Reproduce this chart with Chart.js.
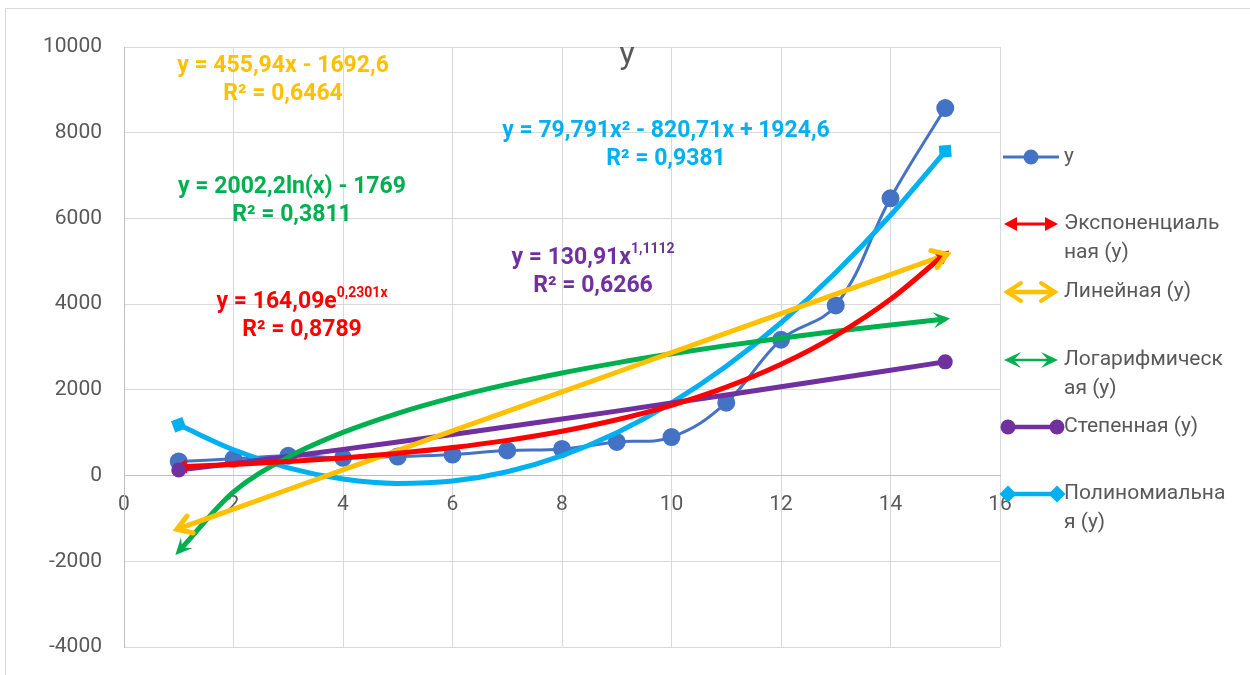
<!DOCTYPE html>
<html>
<head>
<meta charset="utf-8">
<script src="https://cdn.jsdelivr.net/npm/chart.js@4.4.1/dist/chart.umd.min.js"></script>
<style>
  html, body { margin: 0; padding: 0; background: #fff; }
  #wrap { position: relative; width: 1250px; height: 675px; overflow: hidden; }
  #frame { position: absolute; left: 5px; top: 8px; width: 1300px; height: 700px; border: 1px solid #d9d9d9; }
  canvas { position: absolute; left: 0; top: 0; }
</style>
</head>
<body>
<div id="wrap">
  <div id="frame"></div>
  <canvas id="myChart" width="1250" height="675"></canvas>
</div>
<script>
// data
const xValues = [1, 2, 3, 4, 5, 6, 7, 8, 9, 10, 11, 12, 13, 14, 15];
const yValues = [330, 390, 460, 415, 444, 491, 585, 622, 786, 898, 1702, 3169, 3970, 6470, 8575];
const xTicks = [0, 2, 4, 6, 8, 10, 12, 14, 16];
const yTicks = [-4000, -2000, 0, 2000, 4000, 6000, 8000, 10000];

// trendline coefficients as printed on the chart
const expCoef = [164.09, 0.2301];
const linCoef = [455.94, -1692.6];
const logCoef = [2002.2, -1769];
const powCoef = [130.91, 1.1112];
const polyCoef = [79.791, -820.71, 1924.6];

const chartTitle = "y";
const seriesNames = ["y", "Экспоненциальная (y)", "Линейная (y)", "Логарифмическая (y)", "Степенная (y)", "Полиномиальная (y)"];
const legendLines = [["y"], ["Экспоненциаль", "ная (y)"], ["Линейная (y)"], ["Логарифмическ", "ая (y)"], ["Степенная (y)"], ["Полиномиальна", "я (y)"]];
const eqTexts = [
  ["y = 164,09e^{0,2301x}", "R² = 0,8789"],
  ["y = 455,94x - 1692,6", "R² = 0,6464"],
  ["y = 2002,2ln(x) - 1769", "R² = 0,3811"],
  ["y = 130,91x^{1,1112}", "R² = 0,6266"],
  ["y = 79,791x² - 820,71x + 1924,6", "R² = 0,9381"],
];

// styles / positions
const blue = "#4472C4";
const trendColors = ["#FF0000", "#FFC000", "#00B050", "#7030A0", "#00B0F0"];
const trendHeads = ["arrow", "open", "stealth", "oval", "diamond"];
const eqPos = [[302, 302], [283, 66], [292, 187], [593, 258], [666, 131]];
const legendRowY = [157, 224, 292, 360, 427, 494];
const FONT = "Roboto, 'Noto Sans', sans-serif";
const grey = "#595959";

const trendFns = [
  (x) => expCoef[0] * Math.exp(expCoef[1] * x),
  (x) => linCoef[0] * x + linCoef[1],
  (x) => logCoef[0] * Math.log(x) + logCoef[1],
  (x) => powCoef[0] * Math.pow(x, powCoef[1]),
  (x) => polyCoef[0] * x * x + polyCoef[1] * x + polyCoef[2],
];

const trendSets = trendFns.map((fn, i) => ({
  label: seriesNames[i + 1],
  data: xValues.map((x) => ({ x: x, y: fn(x) })),
  showLine: true,
  borderColor: trendColors[i],
  borderWidth: 5,
  pointRadius: 0,
  tension: i === 1 ? 0 : 0.4,
  cubicInterpolationMode: i === 1 ? "default" : "monotone",
  order: 1,
}));

const mainSet = {
  label: seriesNames[0],
  data: xValues.map((x, i) => ({ x: x, y: yValues[i] })),
  showLine: true,
  borderColor: blue,
  backgroundColor: blue,
  borderWidth: 3,
  pointRadius: 7.5,
  pointBackgroundColor: blue,
  pointBorderColor: blue,
  tension: 0.4,
  order: 5,
};

function drawHead(ctx, type, x, y, ang, color, lw) {
  const dx = Math.cos(ang), dy = Math.sin(ang);
  const px = -dy, py = dx;
  ctx.save();
  ctx.fillStyle = color;
  ctx.strokeStyle = color;
  ctx.lineJoin = "miter";
  if (type === "arrow") {
    const tx = x + dx * 5, ty = y + dy * 5;
    ctx.beginPath();
    ctx.moveTo(tx, ty);
    ctx.lineTo(tx - dx * 13 + px * 7, ty - dy * 13 + py * 7);
    ctx.lineTo(tx - dx * 13 - px * 7, ty - dy * 13 - py * 7);
    ctx.closePath();
    ctx.fill();
  } else if (type === "open") {
    const tx = x + dx * 2, ty = y + dy * 2;
    ctx.lineWidth = lw || 5;
    ctx.lineCap = "round";
    ctx.beginPath();
    ctx.moveTo(tx - dx * 14 + px * 9, ty - dy * 14 + py * 9);
    ctx.lineTo(tx, ty);
    ctx.lineTo(tx - dx * 14 - px * 9, ty - dy * 14 - py * 9);
    ctx.stroke();
  } else if (type === "stealth") {
    const tx = x + dx * 5, ty = y + dy * 5;
    ctx.beginPath();
    ctx.moveTo(tx, ty);
    ctx.lineTo(tx - dx * 17 + px * 8, ty - dy * 17 + py * 8);
    ctx.lineTo(tx - dx * 10, ty - dy * 10);
    ctx.lineTo(tx - dx * 17 - px * 8, ty - dy * 17 - py * 8);
    ctx.closePath();
    ctx.fill();
  } else if (type === "oval") {
    ctx.beginPath();
    ctx.arc(x, y, 7.5, 0, Math.PI * 2);
    ctx.fill();
  } else if (type === "diamond") {
    const s = 8.5;
    ctx.beginPath();
    ctx.moveTo(x + dx * s, y + dy * s);
    ctx.lineTo(x + px * s, y + py * s);
    ctx.lineTo(x - dx * s, y - dy * s);
    ctx.lineTo(x - px * s, y - py * s);
    ctx.closePath();
    ctx.fill();
  }
  ctx.restore();
}

function endOf(meta, atStart) {
  const pts = meta.data;
  const p = atStart ? pts[0] : pts[pts.length - 1];
  const q = atStart ? pts[1] : pts[pts.length - 2];
  let cx = atStart ? p.cp2x : p.cp1x;
  let cy = atStart ? p.cp2y : p.cp1y;
  if (cx === undefined || (Math.abs(cx - p.x) < 0.5 && Math.abs(cy - p.y) < 0.5)) {
    cx = q.x; cy = q.y;
  }
  return { x: p.x, y: p.y, ang: Math.atan2(p.y - cy, p.x - cx) };
}

function drawRich(ctx, str, cx, cy, size, color) {
  // split "abc^{sup}def" into pieces
  const parts = [];
  const re = /\^\{([^}]*)\}/g;
  let last = 0, m;
  while ((m = re.exec(str))) {
    if (m.index > last) parts.push([str.slice(last, m.index), false]);
    parts.push([m[1], true]);
    last = re.lastIndex;
  }
  if (last < str.length) parts.push([str.slice(last), false]);
  const supSize = Math.round(size * 0.62);
  let w = 0;
  parts.forEach((p) => {
    ctx.font = "bold " + (p[1] ? supSize : size) + "px " + FONT;
    p.push(ctx.measureText(p[0]).width);
    w += p[2];
  });
  let x = cx - w / 2;
  ctx.fillStyle = color;
  ctx.textBaseline = "middle";
  ctx.textAlign = "left";
  parts.forEach((p) => {
    ctx.font = "bold " + (p[1] ? supSize : size) + "px " + FONT;
    ctx.fillText(p[0], x, p[1] ? cy - size * 0.38 : cy);
    x += p[2];
  });
}

const decorPlugin = {
  id: "decor",
  afterDatasetsDraw(chart) {
    const ctx = chart.ctx;
    trendSets.forEach((ds, i) => {
      const meta = chart.getDatasetMeta(i);
      const a = endOf(meta, true);
      const b = endOf(meta, false);
      drawHead(ctx, trendHeads[i], a.x, a.y, a.ang, trendColors[i]);
      drawHead(ctx, trendHeads[i], b.x, b.y, b.ang, trendColors[i]);
    });
  },
  afterDraw(chart) {
    const ctx = chart.ctx;
    ctx.save();
    // title
    ctx.fillStyle = grey;
    ctx.font = "32px " + FONT;
    ctx.textAlign = "center";
    ctx.textBaseline = "middle";
    ctx.fillText(chartTitle, 627, 56);
    // equations
    eqTexts.forEach((lines, i) => {
      lines.forEach((ln, k) => {
        drawRich(ctx, ln, eqPos[i][0], eqPos[i][1] + k * 28, 23, trendColors[i]);
      });
    });
    // legend
    const x0 = 1003, x1 = 1059, tx = 1064;
    legendLines.forEach((lines, i) => {
      const y = legendRowY[i];
      ctx.lineCap = "butt";
      if (i === 0) {
        ctx.strokeStyle = blue; ctx.lineWidth = 3;
        ctx.beginPath(); ctx.moveTo(x0, y); ctx.lineTo(x1, y); ctx.stroke();
        ctx.fillStyle = blue;
        ctx.beginPath(); ctx.arc(1031, y, 7.5, 0, Math.PI * 2); ctx.fill();
      } else {
        const c = trendColors[i - 1];
        const type = trendHeads[i - 1];
        ctx.strokeStyle = c;
        ctx.lineWidth = type === "stealth" ? 2.5 : (type === "arrow" ? 3 : 4.5);
        const ax = type === "oval" || type === "diamond" ? x0 + 5 : x0 + 6;
        const bx = type === "oval" || type === "diamond" ? x1 - 2 : x1 - 6;
        ctx.beginPath(); ctx.moveTo(ax, y); ctx.lineTo(bx, y); ctx.stroke();
        drawHead(ctx, type, ax, y, Math.PI, c, 4);
        drawHead(ctx, type, bx, y, 0, c, 4);
      }
      ctx.fillStyle = grey;
      ctx.font = "21px " + FONT;
      ctx.textAlign = "left";
      ctx.textBaseline = "middle";
      lines.forEach((t, k) => ctx.fillText(t, tx, y + k * 29));
    });
    ctx.restore();
  },
};

const canvasChart = document.getElementById("myChart");

new Chart(canvasChart, {
  type: "scatter",
  data: { datasets: trendSets.concat([mainSet]) },
  plugins: [decorPlugin],
  options: {
    responsive: false,
    animation: false,
    devicePixelRatio: 1,
    layout: { padding: { left: 0, top: 47, right: 250, bottom: 28 } },
    plugins: {
      legend: { display: false },
      title: { display: false },
      tooltip: { enabled: false },
    },
    scales: {
      x: {
        type: "linear",
        position: { y: 0 },
        min: xTicks[0],
        max: xTicks[xTicks.length - 1],
        afterFit: (s) => { s.height = 0; },
        afterBuildTicks: (s) => { s.ticks = xTicks.map((v) => ({ value: v })); },
        grid: { color: "#d9d9d9", lineWidth: 1, drawTicks: false },
        border: { color: "#bfbfbf", width: 1 },
        ticks: {
          padding: 17,
          color: grey,
          font: { family: FONT, size: 21 },
          maxRotation: 0,
          callback: (v) => String(v),
        },
      },
      y: {
        type: "linear",
        position: "left",
        min: yTicks[0],
        max: yTicks[yTicks.length - 1],
        afterFit: (s) => { s.width = 124; s.paddingTop = 0; s.paddingBottom = 0; },
        afterBuildTicks: (s) => { s.ticks = yTicks.map((v) => ({ value: v })); },
        grid: { color: "#d9d9d9", lineWidth: 1, drawTicks: false },
        border: { color: "#bfbfbf", width: 1 },
        ticks: {
          padding: 22,
          color: grey,
          font: { family: FONT, size: 21 },
          callback: (v) => String(v),
        },
      },
    },
  },
});
</script>
</body>
</html>
